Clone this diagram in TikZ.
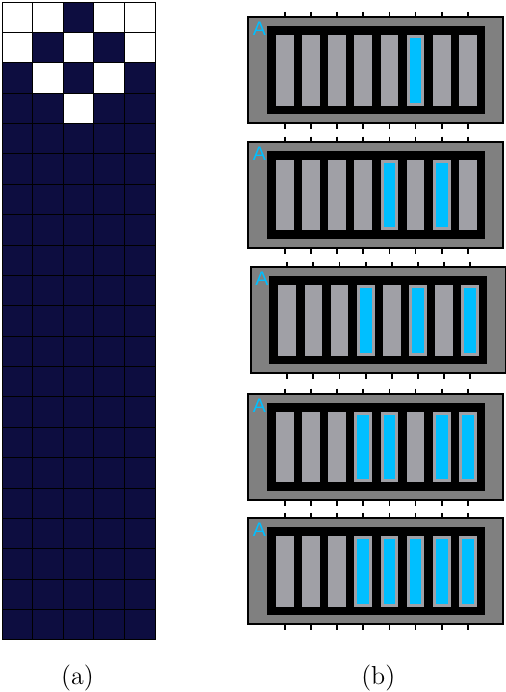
\documentclass[tikz,border=0pt]{standalone}
\usepackage{fontspec}
\newfontfamily\chipfont{Liberation Sans}
\definecolor{navyc}{HTML}{0D0D40}
\definecolor{barg}{HTML}{A0A0A6}
\definecolor{chipg}{HTML}{808080}
\definecolor{cyanb}{HTML}{00BFFF}
\tikzset{
  gridline/.style={black, line width=0.5pt},
  chipbody/.style={fill=chipg, draw=black, line width=0.9pt},
  chipcore/.style={fill=black},
  barbox/.style={fill=barg},
  barlit/.style={fill=cyanb},
  pinline/.style={black, line width=0.9pt},
  chiplabel/.style={text=cyanb, font=\chipfont\fontsize{9.8}{10}\selectfont, inner sep=0pt, anchor=center},
  caplabel/.style={font=\fontsize{13}{15}\selectfont, inner sep=0pt, anchor=center}
}
\newcommand\drawchip[3]{%
  \begin{scope}[shift={(#1,#2)}]
    \path[chipbody] (0,0) rectangle (255,106);
    \fill[chipcore] (18.7,9) rectangle (236.7,97);
    \foreach \f [count=\i from 0] in {#3} {
      \pgfmathsetmacro\bx{27.7+\i*26.14}
      \fill[barbox] (\bx,17.7) rectangle ++(17.7,70.5);
      \ifnum\f=1
        \fill[barlit] ({\bx+3},20.7) rectangle ++(11.7,64.5);
      \fi
      \draw[pinline] ({\bx+8.85},-5.5) -- ({\bx+8.85},0);
      \draw[pinline] ({\bx+8.85},106) -- ({\bx+8.85},111.5);
    }
    \node[chiplabel] at (11.2,11.5) {A};
  \end{scope}%
}
\begin{document}
\begin{tikzpicture}[x=0.5pt,y=-0.5pt]
\useasboundingbox (0,0) rectangle (505,692);
% (a) grid
\fill[navyc] (2,2) rectangle (155,640);
\foreach \r/\c in {0/0,0/1,0/3,0/4,1/0,1/2,1/4,2/1,2/3,3/2}
  \fill[white] ({2+\c*30.6},{2+\r*30.38}) rectangle ++(30.6,30.38);
\foreach \c in {0,...,5}
  \draw[gridline] ({2+\c*30.6},2) -- ({2+\c*30.6},640);
\foreach \r in {0,...,21}
  \draw[gridline] (2,{2+\r*30.38}) -- (155,{2+\r*30.38});
% (b) chips
\drawchip{248.3}{17.3}{0,0,0,0,0,1,0,0}
\drawchip{248.3}{142}{0,0,0,0,1,0,1,0}
\drawchip{250.7}{267.3}{0,0,0,1,0,1,0,1}
\drawchip{248.3}{394}{0,0,0,1,1,0,1,1}
\drawchip{248.3}{518.3}{0,0,0,1,1,1,1,1}
% captions
\node[caplabel] (la) at (77.5,678) {(a)};
\node[caplabel] (lb) at (378.3,678) {(b)};
\end{tikzpicture}
\end{document}
